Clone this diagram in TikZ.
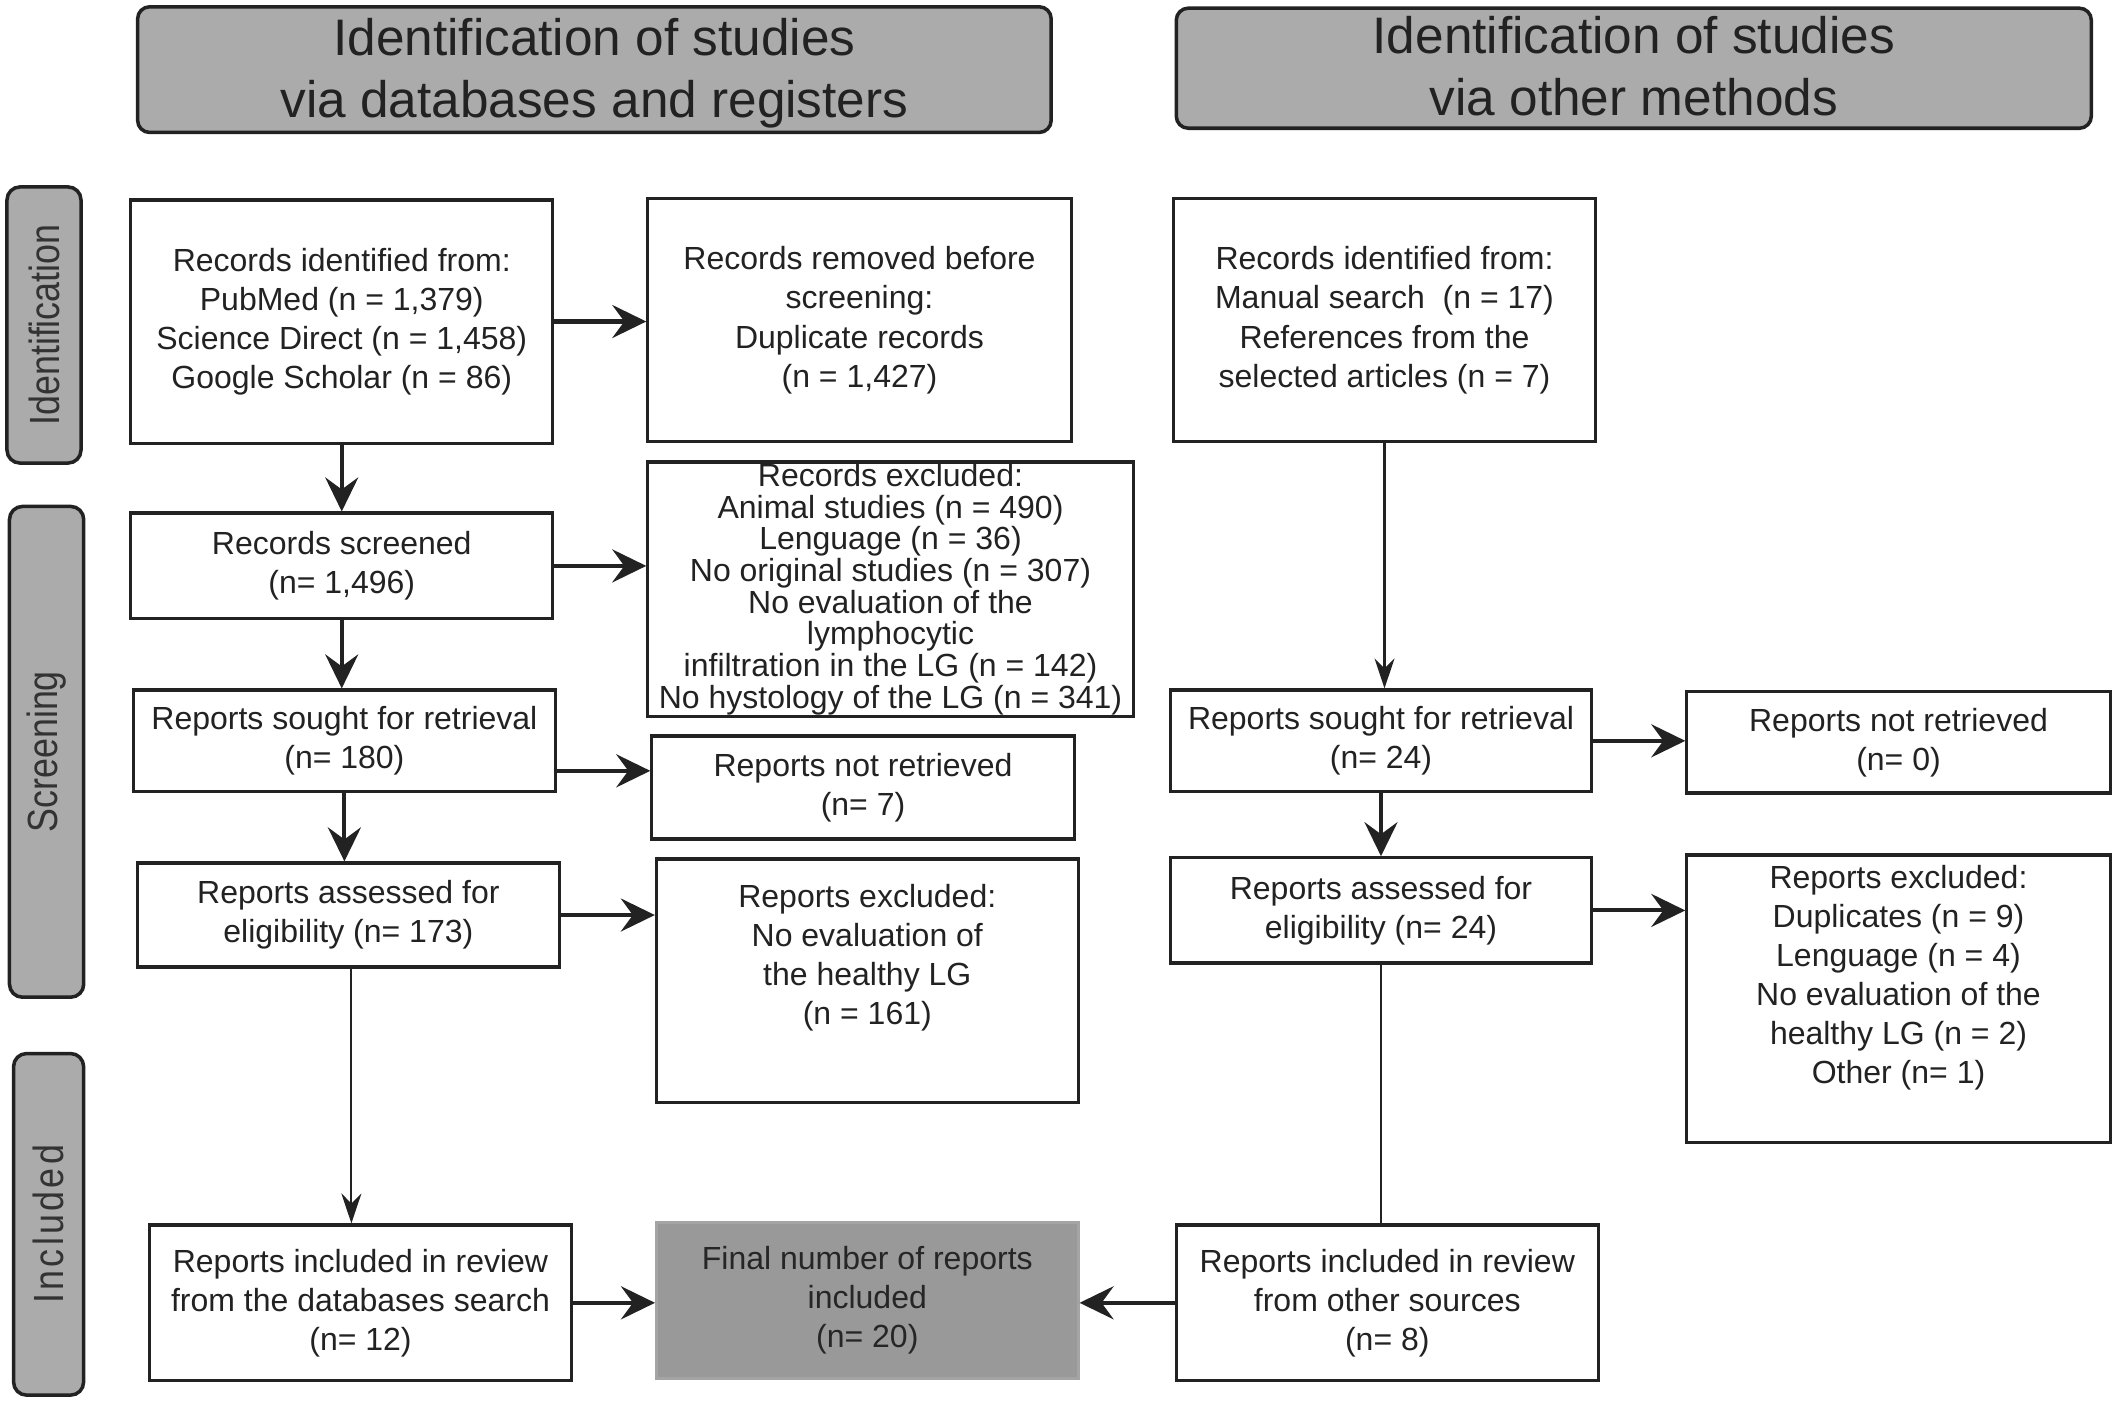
\documentclass[tikz,border=0pt]{standalone}
\usepackage{fontspec}
\setmainfont{Liberation Sans}
\newfontfamily\sidefont[FakeStretch=0.85]{Liberation Sans}
\newfontfamily\sidefontwide[FakeStretch=0.85,LetterSpace=8]{Liberation Sans}
\usetikzlibrary{arrows.meta,calc}
\definecolor{hdrgray}{HTML}{ABABAB}
\definecolor{fingray}{HTML}{999999}
\definecolor{finborder}{HTML}{A4A4A4}
\definecolor{ink}{HTML}{222222}
\begin{document}
\begin{tikzpicture}[x=0.01cm,y=-0.01cm,
 txt/.style={inner sep=0pt, align=center, text=ink, font=\fontsize{9.1}{11.1}\selectfont},
 box/.style={txt, draw=ink, line width=0.9pt, fill=white},
 hdr/.style={draw=ink, line width=1pt, rounded corners=0.12cm, fill=hdrgray, inner sep=0pt, align=center, text=ink, font=\fontsize{14.6}{17.6}\selectfont},
 side/.style={draw=ink, line width=1pt, rounded corners=0.13cm, fill=hdrgray, inner sep=0pt, rotate=90, text=black!80, font=\sidefont\fontsize{12}{13}\selectfont},
 arr/.style={draw=ink, line width=1.15pt, -{Stealth[length=0.34cm,width=0.33cm,inset=0.12cm]}},
 thinarr/.style={draw=ink, line width=0.6pt, -{Stealth[length=0.3cm,width=0.2cm,inset=0.1cm]}},
 thinline/.style={draw=ink, line width=0.6pt},
]
\useasboundingbox (0,0) rectangle (2118,1405);

% headers
\node[hdr, minimum width=9.13cm, minimum height=1.256cm, text depth=0.04cm] (hL) at (594.4,69.6) {Identification of studies\\via databases and registers};
\node[hdr, minimum width=9.145cm, minimum height=1.20cm, text depth=0.04cm] (hR) at (1633.8,68.2) {Identification of studies\\via other methods};

% side bars
\node[side, minimum width=2.76cm, minimum height=0.74cm] (sI) at (44,325) {Identification};
\node[side, minimum width=4.905cm, minimum height=0.742cm] (sS) at (46.6,751.8) {Screening};
\node[side, minimum width=3.414cm, minimum height=0.70cm, font=\sidefontwide\fontsize{12}{13}\selectfont] (sInc) at (48.6,1224.3) {Included};

% left column
\node[box, minimum width=4.215cm, minimum height=2.43cm] (a1) at (341.75,321.5) {Records identified from:\\PubMed (n = 1,379)\\Science Direct (n = 1,458)\\Google Scholar (n = 86)};
\node[box, minimum width=4.23cm, minimum height=2.431cm] (a2) at (859.5,320.2) {Records removed before\\screening:\\Duplicate records\\(n = 1,427)};
\node[box, minimum width=4.215cm, minimum height=1.057cm] (a3) at (341.75,565.9) {Records screened\\(n= 1,496)};
\node[box, minimum width=4.85cm, minimum height=2.54cm, font=\fontsize{9.1}{9.0}\selectfont] (a4) at (890.5,589) {Records excluded:\\Animal studies (n = 490)\\Lenguage (n = 36)\\No original studies (n = 307)\\No evaluation of the\\lymphocytic\\infiltration in the LG (n = 142)\\No hystology of the LG (n = 341)};
\node[box, minimum width=4.213cm, minimum height=1.016cm] (a5) at (344.4,740.8) {Reports sought for retrieval\\(n= 180)};
\node[box, minimum width=4.22cm, minimum height=1.03cm] (a6) at (863,787.5) {Reports not retrieved\\(n= 7)};
\node[box, minimum width=4.212cm, minimum height=1.04cm] (a7) at (348.4,915) {Reports assessed for\\eligibility (n= 173)};
\node[box, minimum width=4.215cm, minimum height=2.43cm] (a8) at (867.3,980.5) {};
\node[txt] (a8t) at (867.3,957.7) {Reports excluded:\\No evaluation of\\the healthy LG\\(n = 161)};
\node[box, minimum width=4.21cm, minimum height=1.555cm] (a9) at (360.5,1302.8) {Reports included in review\\from the databases search\\(n= 12)};
\node[txt, draw=finborder, line width=0.8pt, fill=fingray, text=black!85, minimum width=4.215cm, minimum height=1.555cm] (fin) at (867.3,1300.3) {Final number of reports\\included\\(n= 20)};

% right column
\node[box, minimum width=4.21cm, minimum height=2.431cm] (b1) at (1384.5,320.2) {Records identified from:\\Manual search~ (n = 17)\\References from the\\selected articles (n = 7)};
\node[box, minimum width=4.20cm, minimum height=1.016cm] (b5) at (1381,740.8) {Reports sought for retrieval\\(n= 24)};
\node[box, minimum width=4.23cm, minimum height=1.014cm] (b6) at (1898.5,742.3) {Reports not retrieved\\(n= 0)};
\node[box, minimum width=4.20cm, minimum height=1.052cm] (b7) at (1381,910.4) {Reports assessed for\\eligibility (n= 24)};
\node[box, minimum width=4.23cm, minimum height=2.878cm] (b8) at (1898.5,998.9) {};
\node[txt] (b8t) at (1898.5,978) {Reports excluded:\\Duplicates (n = 9)\\Lenguage (n = 4)\\No evaluation of the\\healthy LG (n = 2)\\Other (n= 1)};
\node[box, minimum width=4.215cm, minimum height=1.555cm] (b9) at (1387.3,1302.8) {Reports included in review\\from other sources\\(n= 8)};

% connectors, left
\draw[arr] (a1.east) -- (a1.east -| a2.west);
\draw[arr] (a1.south) -- (a1.south |- a3.north);
\draw[arr] (a3.east) -- (a3.east -| a4.west);
\draw[arr] (a3.south) -- (a3.south |- a5.north);
\draw[arr] ([yshift=-0.3cm]a5.east) -- ([yshift=-0.3cm]a5.east -| a6.west);
\draw[arr] (a5.south) -- (a5.south |- a7.north);
\draw[arr] (a7.east) -- (a7.east -| a8.west);
\draw[thinarr] ([xshift=0.03cm]a7.south) -- ([xshift=0.03cm]a7.south |- a9.north);
\draw[arr] (a9.east) -- (a9.east -| fin.west);

% connectors, right
\draw[thinarr] (b1.south) -- (b1.south |- b5.north);
\draw[arr] (b5.east) -- (b5.east -| b6.west);
\draw[arr] (b5.south) -- (b5.south |- b7.north);
\draw[arr] (b7.east) -- (b7.east -| b8.west);
\draw[thinline] (b7.south) -- (b7.south |- b9.north);
\draw[arr] (b9.west) -- (b9.west -| fin.east);
\end{tikzpicture}
\end{document}
